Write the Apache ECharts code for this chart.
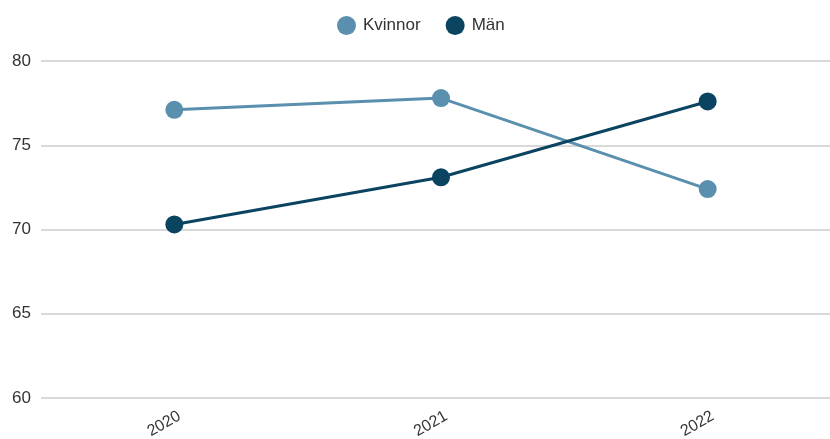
<!DOCTYPE html>
<html>
<head>
<meta charset="utf-8">
<script src="https://cdn.jsdelivr.net/npm/echarts@6/dist/echarts.min.js"></script>
<style>html,body{margin:0;padding:0;background:#fff}#c{width:830px;height:439px}</style>
</head>
<body>
<div id="c"></div>
<script>
const categories = ['2020', '2021', '2022'];
const kvinnor = [77.1, 77.8, 72.4];
const man = [70.3, 73.1, 77.6];
const yTicks = [60, 65, 70, 75, 80];

const chart = echarts.init(document.getElementById('c'), null, {renderer: 'canvas'});
chart.setOption({
  animation: false,
  textStyle: {fontFamily: 'Liberation Sans, Arial, sans-serif'},
  legend: {
    top: 11,
    left: 332,
    itemWidth: 19,
    itemHeight: 19,
    itemGap: 25,
    icon: 'circle',
    textStyle: {fontSize: 17, color: '#333', padding: [0, 0, 0, 2]},
    data: ['Kvinnor', 'Män']
  },
  grid: {left: 41, width: 800, top: 61, height: 337, containLabel: false, outerBoundsMode: 'none'},
  xAxis: {
    type: 'category',
    data: categories,
    boundaryGap: true,
    axisLine: {show: false},
    axisTick: {show: false},
    axisLabel: {rotate: 30, fontSize: 16, color: '#333', margin: 20, padding: [0, -6, 0, 0]}
  },
  yAxis: {
    type: 'value',
    min: yTicks[0],
    max: yTicks[yTicks.length - 1],
    interval: 5,
    axisLine: {show: false},
    axisTick: {show: false},
    axisLabel: {fontSize: 17, color: '#333', margin: 10},
    splitLine: {lineStyle: {color: '#cccccc', width: 1.5}}
  },
  series: [
    {
      name: 'Kvinnor', type: 'line', data: kvinnor,
      symbol: 'circle', symbolSize: 18,
      itemStyle: {color: '#5a8fae'},
      lineStyle: {color: '#5a8fae', width: 3}
    },
    {
      name: 'Män', type: 'line', data: man,
      symbol: 'circle', symbolSize: 18,
      itemStyle: {color: '#0b4461'},
      lineStyle: {color: '#0b4461', width: 3}
    }
  ]
});
</script>
</body>
</html>
